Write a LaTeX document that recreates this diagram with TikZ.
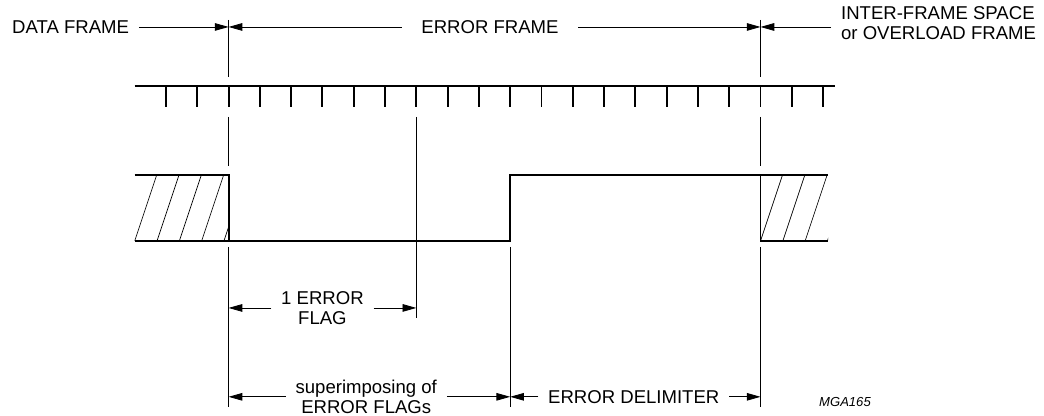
\documentclass[tikz,border=0pt]{standalone}
\usepackage{fontspec}
\setmainfont{Liberation Sans}
\usetikzlibrary{arrows.meta,calc}

\tikzset{
  dimline/.style={line width=0.6pt, -{Triangle[length=10pt,width=5.5pt]}},
  sigline/.style={line width=1.4pt},
  edgeline/.style={line width=0.6pt},
  hatchline/.style={line width=0.5pt},
  lbl/.style={inner xsep=7pt, inner ysep=2pt, align=center, font=\fontsize{13.5}{14.5}\selectfont}
}

\begin{document}
\begin{tikzpicture}[x=0.8cm, y=0.8cm]
    \useasboundingbox (-5.305,-5.593) rectangle (28.06,7.702);

    \coordinate (TopA) at (2, 6.84);
    \coordinate (TopB) at (19, 6.84);
    \coordinate (FlagA) at (2, -2.14);
    \coordinate (FlagB) at (8, -2.14);
    \coordinate (SupA) at (2, -4.98);
    \coordinate (SupB) at (11, -4.98);
    \coordinate (DelimB) at (19, -4.98);

    % frame labels
    \node [lbl] (DataFrame) at (-3.05, 6.84) {DATA FRAME};
    \node [lbl, inner xsep=14pt] (ErrFrame) at (10.355, 6.84) {ERROR FRAME};
    \node [lbl, anchor=west, align=left] (Space) at (21.26, 6.951) {INTER-FRAME SPACE\\or OVERLOAD FRAME};

    \draw [dimline] (DataFrame) -- (TopA);
    \draw [dimline] (ErrFrame) -- (TopA);
    \draw [dimline] (ErrFrame) -- (TopB);
    \draw [dimline] (Space.west |- TopB) -- (TopB);

    % bit clock
    \draw [sigline] (-1, 4.954) -- (21.38, 4.954);
    \foreach \k in {0,...,21}
        \draw [sigline] (\k, 4.954) -- (\k, 4.28);

    % bus level
    \draw [sigline] (-1, 2.1) -- (2, 2.1) -- (2, 0) -- (11, 0) -- (11, 2.1) -- (21.16, 2.1);
    \draw [sigline] (-1, 0) -- (2, 0);
    \draw [sigline] (19, 2.1) -- (19, 0) -- (21.16, 0);

    \begin{scope}
        \clip (-1, 0) rectangle (2, 2.1);
        \foreach \k in {0,...,4}
            \draw [hatchline] ({-1+0.713*\k}, 0) -- ++(0.7, 2.1);
    \end{scope}
    \begin{scope}
        \clip (19, 0) rectangle (21.16, 2.1);
        \foreach \k in {0,...,3}
            \draw [hatchline] ({19+0.713*\k}, 0) -- ++(0.7, 2.1);
    \end{scope}

    % frame boundaries
    \foreach \b in {2, 19}
        \draw [edgeline] (\b, 7.063) -- (\b, 5.24) (\b, 3.963) -- (\b, 2.397) (\b, -0.192) -- (\b, -5.305);
    \draw [edgeline] (8, 3.963) -- (8, -2.46);
    \draw [edgeline] (11, -0.192) -- (11, -5.305);

    % field labels
    \node [lbl] (OneFlag) at (5, -2.14) {1 ERROR\\FLAG};
    \node [lbl] (SupFlags) at (6.4, -4.98) {superimposing of\\ERROR FLAGs};
    \node [lbl] (ErrDelim) at (14.95, -4.98) {ERROR DELIMITER};
    \node [font=\itshape\fontsize{9.5}{11}\selectfont] (FigId) at (21.7, -5.145) {MGA165};

    \draw [dimline] (OneFlag) -- (FlagA);
    \draw [dimline] (OneFlag) -- (FlagB);
    \draw [dimline] (SupFlags) -- (SupA);
    \draw [dimline] (SupFlags) -- (SupB);
    \draw [dimline] (ErrDelim) -- (SupB);
    \draw [dimline] (ErrDelim) -- (DelimB);
\end{tikzpicture}
\end{document}
